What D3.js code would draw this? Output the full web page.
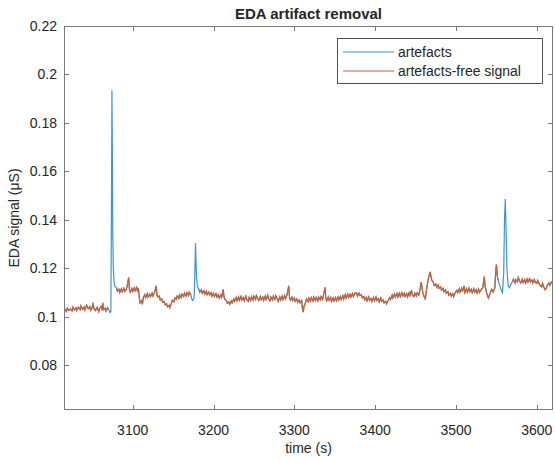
<!DOCTYPE html>
<head>
  <meta charset="utf-8">
  <title>EDA artifact removal</title>
  <script src="https://cdn.jsdelivr.net/npm/d3@7"></script>
  <style>
  body { margin: 0; background: #fff; }
  text { font-family: "Liberation Sans", Arial, sans-serif; fill: #262626; }
  .frame line, .frame rect { stroke: #7a7a7a; }
  </style>
</head>
<body>
<script type="text/javascript">
var WIDTH = 555, HEIGHT = 462;
var margin = {top: 26, right: 2, bottom: 52, left: 64};

var xTicks = [3100, 3200, 3300, 3400, 3500, 3600];
var yTicks = [0.08, 0.1, 0.12, 0.14, 0.16, 0.18, 0.2, 0.22];
var seriesNames = ["artefacts", "artefacts-free signal"];

// artefacts-free signal [time s, EDA uS]; null = removed section
var cleanSignal = [
  [3015,0.1020],[3016,0.1032],[3018,0.1022],[3019,0.1036],[3021,0.1026],[3023,0.1033],
  [3025,0.1024],[3026,0.1040],[3028,0.1029],[3030,0.1038],[3031,0.1027],[3033,0.1040],
  [3035,0.1030],[3036,0.1046],[3038,0.1031],[3040,0.1041],[3041,0.1028],[3043,0.1048],
  [3045,0.1033],[3047,0.1042],[3048,0.1027],[3050,0.1040],[3051,0.1058],[3052,0.1034],
  [3054,0.1026],[3056,0.1040],[3058,0.1022],[3059,0.1036],[3061,0.1044],[3062,0.1028],
  [3063,0.1058],[3064,0.1030],[3066,0.1036],[3067,0.1024],[3069,0.1038],[3070,0.1030],
  null,
  [3080,0.1120],[3081,0.1106],[3083,0.1114],[3084,0.1100],[3086,0.1116],[3087,0.1104],
  [3089,0.1118],[3090,0.1105],[3092,0.1112],[3093,0.1126],[3095,0.1162],[3096,0.1110],
  [3097,0.1102],[3099,0.1117],[3100,0.1105],[3102,0.1120],[3103,0.1108],[3105,0.1122],
  [3106,0.1104],[3107,0.1118],[3108,0.1085],[3109,0.1058],[3111,0.1066],[3112,0.1052],
  [3113,0.1078],[3115,0.1092],[3116,0.1080],[3118,0.1096],[3119,0.1082],[3121,0.1094],
  [3122,0.1084],[3124,0.1098],[3125,0.1086],[3127,0.1100],[3129,0.1128],[3130,0.1090],
  [3131,0.1082],[3133,0.1086],[3134,0.1070],[3136,0.1074],[3137,0.1060],[3139,0.1064],
  [3140,0.1050],[3142,0.1054],[3143,0.1042],[3145,0.1048],[3146,0.1038],[3148,0.1058],
  [3149,0.1068],[3151,0.1062],[3152,0.1078],[3154,0.1072],[3155,0.1086],[3157,0.1076],
  [3158,0.1092],[3160,0.1080],[3161,0.1094],[3163,0.1084],[3164,0.1098],[3166,0.1086],
  [3167,0.1100],[3169,0.1088],[3170,0.1102],[3172,0.1090],
  null,
  [3182,0.1114],[3183,0.1102],[3185,0.1112],[3186,0.1098],[3188,0.1108],[3189,0.1094],
  [3191,0.1106],[3192,0.1092],[3194,0.1103],[3195,0.1090],[3197,0.1100],[3198,0.1086],
  [3200,0.1098],[3201,0.1084],[3203,0.1096],[3204,0.1082],[3206,0.1092],[3207,0.1078],
  [3209,0.1090],[3210,0.1080],[3212,0.1114],[3213,0.1082],[3214,0.1072],[3216,0.1066],
  [3217,0.1056],[3219,0.1062],[3220,0.1052],[3222,0.1066],[3223,0.1058],[3225,0.1074],
  [3226,0.1064],[3228,0.1080],[3229,0.1066],[3231,0.1082],[3232,0.1068],[3234,0.1084],
  [3235,0.1070],[3237,0.1080],[3238,0.1066],[3240,0.1086],[3241,0.1072],[3243,0.1064],
  [3244,0.1080],[3246,0.1068],[3247,0.1084],[3249,0.1070],[3250,0.1086],[3252,0.1072],
  [3253,0.1088],[3255,0.1074],[3256,0.1068],[3258,0.1084],[3259,0.1070],[3261,0.1082],
  [3262,0.1068],[3264,0.1086],[3265,0.1072],[3267,0.1090],[3268,0.1074],[3270,0.1066],
  [3271,0.1082],[3273,0.1070],[3274,0.1086],[3276,0.1072],[3277,0.1088],[3279,0.1074],
  [3280,0.1064],[3282,0.1082],[3283,0.1070],[3285,0.1086],[3286,0.1072],[3288,0.1088],
  [3289,0.1074],[3291,0.1092],[3293,0.1128],[3294,0.1080],[3295,0.1070],[3297,0.1082],
  [3298,0.1068],[3300,0.1078],[3301,0.1064],[3303,0.1074],[3304,0.1060],[3306,0.1070],
  [3307,0.1058],[3309,0.1068],[3310,0.1036],[3311,0.1020],[3312,0.1044],[3314,0.1060],
  [3315,0.1074],[3317,0.1062],[3318,0.1078],[3320,0.1064],[3321,0.1080],[3323,0.1066],
  [3324,0.1082],[3326,0.1068],[3327,0.1080],[3329,0.1066],[3330,0.1082],[3332,0.1070],
  [3333,0.1084],[3335,0.1072],[3336,0.1090],[3338,0.1122],[3339,0.1076],[3340,0.1066],
  [3342,0.1082],[3343,0.1068],[3345,0.1080],[3346,0.1064],[3348,0.1078],[3349,0.1066],
  [3351,0.1080],[3352,0.1066],[3354,0.1082],[3355,0.1070],[3357,0.1084],[3358,0.1072],
  [3360,0.1088],[3361,0.1074],[3363,0.1092],[3364,0.1078],[3366,0.1094],[3367,0.1080],
  [3369,0.1094],[3370,0.1082],[3372,0.1096],[3373,0.1084],[3375,0.1098],[3377,0.1100],
  [3378,0.1086],[3380,0.1098],[3381,0.1088],[3383,0.1092],[3384,0.1078],[3386,0.1084],
  [3387,0.1070],[3389,0.1080],[3390,0.1066],[3392,0.1082],[3393,0.1068],[3395,0.1076],
  [3396,0.1064],[3398,0.1080],[3399,0.1066],[3401,0.1082],[3402,0.1068],[3404,0.1076],
  [3405,0.1062],[3407,0.1078],[3408,0.1064],[3410,0.1070],[3411,0.1058],[3413,0.1064],
  [3414,0.1054],[3416,0.1068],[3418,0.1080],[3419,0.1072],[3421,0.1090],[3422,0.1078],
  [3424,0.1094],[3425,0.1082],[3427,0.1096],[3428,0.1082],[3430,0.1098],[3431,0.1084],
  [3433,0.1100],[3434,0.1086],[3436,0.1098],[3437,0.1084],[3439,0.1096],[3440,0.1082],
  [3442,0.1100],[3443,0.1088],[3445,0.1110],[3446,0.1090],[3448,0.1084],[3449,0.1098],
  [3451,0.1086],[3452,0.1100],[3454,0.1090],[3455,0.1104],[3457,0.1144],[3459,0.1098],
  [3461,0.1080],[3462,0.1074],[3464,0.1122],[3466,0.1162],[3468,0.1186],[3469,0.1168],
  [3470,0.1152],[3472,0.1142],[3473,0.1130],[3475,0.1136],[3476,0.1122],[3478,0.1132],
  [3479,0.1118],[3481,0.1124],[3482,0.1110],[3484,0.1118],[3485,0.1104],[3487,0.1112],
  [3488,0.1098],[3490,0.1104],[3491,0.1090],[3493,0.1098],[3494,0.1086],[3496,0.1096],
  [3497,0.1084],[3499,0.1100],[3501,0.1110],[3502,0.1100],[3504,0.1116],[3505,0.1102],
  [3507,0.1118],[3508,0.1104],[3510,0.1128],[3511,0.1100],[3513,0.1116],[3514,0.1102],
  [3516,0.1118],[3517,0.1104],[3519,0.1114],[3520,0.1100],[3522,0.1116],[3523,0.1102],
  [3525,0.1112],[3526,0.1098],[3528,0.1114],[3529,0.1100],[3531,0.1112],[3533,0.1120],
  [3535,0.1166],[3536,0.1126],[3538,0.1098],[3540,0.1078],[3542,0.1094],[3544,0.1114],
  [3546,0.1102],[3548,0.1120],[3549,0.1180],[3550,0.1216],[3551,0.1170],[3552,0.1152],
  null,
  [3570,0.1146],[3571,0.1156],[3573,0.1140],[3574,0.1154],[3576,0.1144],[3577,0.1162],
  [3579,0.1146],[3580,0.1140],[3582,0.1156],[3583,0.1142],[3585,0.1154],[3586,0.1140],
  [3588,0.1156],[3589,0.1144],[3591,0.1158],[3592,0.1144],[3594,0.1152],[3595,0.1140],
  [3597,0.1154],[3598,0.1142],[3600,0.1138],[3601,0.1150],[3603,0.1136],[3604,0.1130],
  [3606,0.1124],[3607,0.1138],[3609,0.1120],[3610,0.1112],[3612,0.1118],[3613,0.1132],
  [3615,0.1140],[3616,0.1130],[3618,0.1144],[3620,0.1136]
];

// raw samples inside the removed sections (artefacts)
var artefactSamples = [
  [3071,0.1025],[3072,0.1018],[3073,0.1022],[3073.8,0.1500],[3074.3,0.1935],[3074.8,0.1700],
  [3075.3,0.1350],[3076,0.1200],[3077,0.1145],[3078,0.1125],
  [3173,0.1075],[3174,0.1068],[3175,0.1072],[3176,0.1080],[3177,0.1200],[3177.7,0.1305],
  [3178.4,0.1220],[3179,0.1160],[3180,0.1130],[3181,0.1118],
  [3554,0.1130],[3556,0.1110],[3557.5,0.1100],[3559,0.1180],[3560,0.1400],[3561,0.1486],
  [3562,0.1350],[3563,0.1200],[3564.5,0.1128],[3566,0.1120],[3568,0.1135]
];

var colors = ["#3d95d6", "#c95f32"];

// raw signal = clean samples + artefact samples
var rawSignal = cleanSignal.filter(function(d){ return d; })
  .concat(artefactSamples)
  .sort(function(a, b){ return a[0] - b[0]; });

var svg = d3.select("body").append("svg")
  .attr("width", WIDTH)
  .attr("height", HEIGHT);

var iw = WIDTH - margin.left - margin.right;
var ih = HEIGHT - margin.top - margin.bottom;

var x = d3.scaleLinear().domain([3015, 3620]).range([margin.left, margin.left + iw]);
var y = d3.scaleLinear().domain([0.0616, 0.22]).range([margin.top + ih, margin.top]);

svg.append("defs").append("clipPath").attr("id", "clip")
  .append("rect")
  .attr("x", margin.left).attr("y", margin.top)
  .attr("width", iw).attr("height", ih);

var line = d3.line()
  .defined(function(d){ return d !== null; })
  .x(function(d){ return x(d[0]); })
  .y(function(d){ return y(d[1]); });

var plot = svg.append("g").attr("clip-path", "url(#clip)");
plot.append("path")
  .datum(rawSignal)
  .attr("fill", "none")
  .attr("stroke", colors[0])
  .attr("stroke-width", 1.2)
  .attr("d", line);
plot.append("path")
  .datum(cleanSignal)
  .attr("fill", "none")
  .attr("stroke", colors[1])
  .attr("stroke-width", 1.2)
  .attr("d", line);

// box with inward ticks on all four sides
var frame = svg.append("g").attr("class", "frame");
frame.append("rect")
  .attr("x", margin.left + 0.5).attr("y", margin.top + 0.5)
  .attr("width", iw - 1).attr("height", ih - 1)
  .attr("fill", "none");

var tl = 5;
xTicks.forEach(function(t){
  var px = Math.round(x(t)) + 0.5;
  frame.append("line").attr("x1", px).attr("x2", px)
    .attr("y1", margin.top + ih).attr("y2", margin.top + ih - tl);
  frame.append("line").attr("x1", px).attr("x2", px)
    .attr("y1", margin.top).attr("y2", margin.top + tl);
  svg.append("text").attr("x", x(t)).attr("y", margin.top + ih + 25)
    .attr("text-anchor", "middle").attr("font-size", 14).text(t);
});
yTicks.forEach(function(t){
  var py = Math.round(y(t)) + 0.5;
  frame.append("line").attr("x1", margin.left).attr("x2", margin.left + tl)
    .attr("y1", py).attr("y2", py);
  frame.append("line").attr("x1", margin.left + iw).attr("x2", margin.left + iw - tl)
    .attr("y1", py).attr("y2", py);
  svg.append("text").attr("x", margin.left - 7).attr("y", y(t) + 5)
    .attr("text-anchor", "end").attr("font-size", 14).text(d3.format("~g")(t));
});

// title and axis labels
svg.append("text").attr("x", margin.left + iw / 2).attr("y", 19)
  .attr("text-anchor", "middle").attr("font-size", 15).attr("font-weight", "bold")
  .attr("fill", "#000").text("EDA artifact removal");
svg.append("text").attr("x", margin.left + iw / 2).attr("y", 453)
  .attr("text-anchor", "middle").attr("font-size", 14).text("time (s)");
svg.append("text")
  .attr("transform", "translate(19," + (margin.top + ih / 2) + ") rotate(-90)")
  .attr("text-anchor", "middle").attr("font-size", 14).text("EDA signal (\u03bcS)");

// legend
var lg = svg.append("g").attr("transform", "translate(337,38)");
lg.append("rect").attr("x", 0.5).attr("y", 0.5).attr("width", 205).attr("height", 45)
  .attr("fill", "#fff").attr("stroke", "#262626").attr("stroke-width", 0.8);
seriesNames.forEach(function(name, i){
  var ly = 14 + i * 19;
  lg.append("line").attr("x1", 6).attr("x2", 57).attr("y1", ly).attr("y2", ly)
    .attr("stroke", colors[i]).attr("stroke-width", 1.2);
  lg.append("text").attr("x", 61).attr("y", ly + 5).attr("font-size", 14).text(name);
});
</script>
</body>
